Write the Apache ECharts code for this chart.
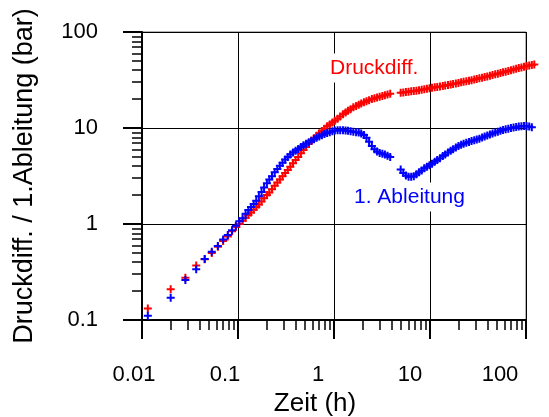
<!DOCTYPE html>
<html>
<head>
<meta charset="utf-8">
<script src="https://cdn.jsdelivr.net/npm/echarts@6/dist/echarts.min.js"></script>
<style>
html, body { margin: 0; padding: 0; background: #fff; }
#chart { width: 549px; height: 417px; }
</style>
</head>
<body>
<div id="chart"></div>
<script>
// Zeit (h), gemeinsam fuer beide Reihen
var zeit = [
	0.0115, 0.0199, 0.0283, 0.0367, 0.045, 0.0533, 0.0617, 0.07, 0.0783, 0.0867, 0.095, 0.1033, 0.1117, 0.12, 0.1283, 0.1367,
	0.1456, 0.155, 0.165, 0.176, 0.187, 0.2, 0.212, 0.226, 0.241, 0.257, 0.273, 0.291, 0.31, 0.33, 0.351, 0.374, 0.398, 0.424, 0.452, 0.481,
	0.512, 0.546, 0.581, 0.619, 0.659, 0.702, 0.748, 0.796, 0.848, 0.903, 0.962, 1.02, 1.09, 1.16, 1.24, 1.32, 1.4, 1.49, 1.59, 1.7,
	1.81, 1.92, 2.05, 2.18, 2.32, 2.48, 2.64, 2.81, 2.99, 3.19, 3.39, 3.61, 3.85,
	4.95, 5.27, 5.61, 5.98, 6.37, 6.78, 7.22, 7.69, 8.19, 8.72, 9.29, 9.89, 10.5, 11.2, 11.9, 12.7, 13.6, 14.4, 15.4, 16.4,
	17.4, 18.6, 19.8, 21.1, 22.4, 23.9, 25.5, 27.1, 28.9, 30.7, 32.7, 34.9, 37.1, 39.5, 42.1, 44.8, 47.8, 50.9, 54.2, 57.7,
	61.4, 65.4, 69.7, 74.2, 79, 84.1, 89.6, 95.4, 101.6, 108, 115, 122
];
// Druckdiff. (bar)
var druck = [
	0.132, 0.209, 0.276, 0.37, 0.43, 0.50, 0.58, 0.665, 0.74, 0.84, 0.93, 1.0, 1.08, 1.16, 1.24, 1.32,
	1.41, 1.5, 1.6, 1.72, 1.85, 2.0, 2.13, 2.3, 2.5, 2.7, 2.9, 3.15, 3.4, 3.65, 3.95, 4.3, 4.65, 5.0, 5.45, 5.9,
	6.35, 6.9, 7.35, 7.8, 8.3, 8.8, 9.3, 9.85, 10.4, 10.9, 11.4, 11.9, 12.5, 13.2, 13.9, 14.5, 15.1, 15.7, 16.4, 17.0,
	17.5, 18.0, 18.5, 19.0, 19.5, 20.0, 20.4, 20.8, 21.2, 21.6, 22.0, 22.3, 22.7,
	23.3, 23.5, 23.7, 23.9, 24.1, 24.3, 24.5, 24.8, 25.0, 25.3, 25.6, 25.9, 26.2, 26.5, 26.8, 27.1, 27.4, 27.7, 28.0, 28.4,
	28.7, 29.1, 29.5, 29.9, 30.3, 30.7, 31.1, 31.5, 32.0, 32.4, 32.9, 33.4, 33.9, 34.4, 35.0, 35.6, 36.2, 36.8, 37.4, 38.0,
	38.6, 39.3, 40.0, 40.7, 41.4, 42.1, 42.8, 43.5, 44.2, 44.8, 45.3, 45.8
];
// 1. Ableitung (bar)
var ableitung = [
	0.111, 0.171, 0.261, 0.337, 0.432, 0.515, 0.59, 0.69, 0.77, 0.86, 0.96, 1.07, 1.15, 1.28, 1.4, 1.5,
	1.62, 1.75, 1.95, 2.15, 2.4, 2.65, 2.9, 3.15, 3.45, 3.75, 4.05, 4.35, 4.7, 5.0, 5.3, 5.55, 5.8, 6.05, 6.35, 6.6,
	6.85, 7.1, 7.35, 7.65, 7.9, 8.15, 8.4, 8.65, 8.85, 9.05, 9.25, 9.4, 9.5, 9.5, 9.45, 9.4, 9.35, 9.25, 9.15, 9.05,
	8.95, 8.75, 8.45, 7.9, 7.2, 6.5, 6.0, 5.7, 5.5, 5.4, 5.3, 5.15, 5.0,
	3.7, 3.4, 3.2, 3.1, 3.1, 3.15, 3.3, 3.45, 3.6, 3.8, 3.95, 4.1, 4.25, 4.45, 4.65, 4.85, 5.1, 5.3, 5.55, 5.8,
	6.0, 6.25, 6.5, 6.7, 6.85, 7.0, 7.15, 7.3, 7.45, 7.6, 7.75, 7.95, 8.15, 8.35, 8.55, 8.75, 8.95, 9.15, 9.35, 9.55,
	9.7, 9.85, 10.0, 10.1, 10.25, 10.35, 10.45, 10.5, 10.45, 10.35, 10.2, null
];

var xTickLabels = ['0.01', '0.1', '1', '10', '100'];
var xDecades = [0.01, 0.1, 1, 10];
var yDecades = [0.1, 1, 10];
var minorSteps = [2, 3, 4, 5, 6, 7, 8, 9];

function minorTicks(decades) {
	var list = [];
	decades.forEach(function (d) {
		minorSteps.forEach(function (m) {
			list.push(parseFloat((d * m).toPrecision(3)));
		});
	});
	return list;
}

function pairs(ys) {
	var out = [];
	for (var i = 0; i < zeit.length; i++) {
		if (ys[i] != null) {
			out.push([zeit[i], ys[i]]);
		}
	}
	return out;
}

var font = 'Liberation Sans';
var plus = 'path://M3,0H5V3H8V5H5V8H3V5H0V3H3Z';

var chart = echarts.init(document.getElementById('chart'));
var option = {
	animation: false,
	backgroundColor: '#fff',
	grid: {
		left: 142,
		right: 23,
		top: 32,
		bottom: 97,
		show: true,
		borderColor: '#666',
		borderWidth: 1,
		containLabel: false,
		outerBoundsMode: 'none'
	},
	xAxis: [{
		type: 'log',
		logBase: 10,
		min: 0.01,
		max: 100,
		position: 'bottom',
		name: 'Zeit (h)',
		nameLocation: 'middle',
		nameGap: 67,
		nameTextStyle: {
			fontSize: 26,
			fontFamily: font,
			color: '#000',
			padding: [0, 38, 0, 0]
		},
		axisLine: { onZero: false, lineStyle: { color: '#000', width: 2 } },
		axisTick: { length: 19, lineStyle: { color: '#000', width: 2 } },
		minorTick: { show: false },
		splitLine: { show: true, lineStyle: { color: '#000', width: 1 } },
		axisLabel: {
			margin: 44,
			fontSize: 22,
			fontFamily: font,
			color: '#000',
			formatter: function (value) {
				var i = Math.round(Math.log10(value)) + 2;
				return '{s' + i + '|' + xTickLabels[i] + '}';
			},
			rich: {
				s0: { padding: [0, 16, 0, 0] },
				s1: { padding: [0, 26, 0, 0] },
				s2: { padding: [0, 32, 0, 0] },
				s3: { padding: [0, 40, 0, 0] },
				s4: { padding: [0, 52, 0, 0] }
			}
		}
	}, {
		// kleine Striche 2..9
		type: 'log',
		logBase: 10,
		min: 0.01,
		max: 100,
		position: 'bottom',
		axisLine: { show: false },
		axisLabel: { show: false },
		splitLine: { show: false },
		axisTick: { length: 10, lineStyle: { color: '#000', width: 1.5 }, customValues: minorTicks(xDecades) }
	}],
	yAxis: [{
		type: 'log',
		logBase: 10,
		min: 0.1,
		max: 100,
		position: 'left',
		name: 'Druckdiff. / 1.Ableitung (bar)',
		nameLocation: 'middle',
		nameGap: 104,
		nameTextStyle: {
			fontSize: 27,
			fontFamily: font,
			color: '#000'
		},
		axisLine: { onZero: false, lineStyle: { color: '#000', width: 2 } },
		axisTick: { length: 19, lineStyle: { color: '#000', width: 2 } },
		minorTick: { show: false },
		splitLine: { show: true, lineStyle: { color: '#000', width: 1 } },
		axisLabel: {
			margin: 44,
			fontSize: 22,
			fontFamily: font,
			color: '#000'
		}
	}, {
		type: 'log',
		logBase: 10,
		min: 0.1,
		max: 100,
		position: 'left',
		axisLine: { show: false },
		axisLabel: { show: false },
		splitLine: { show: false },
		axisTick: { length: 10, lineStyle: { color: '#000', width: 1.5 }, customValues: minorTicks(yDecades) }
	}],
	series: [{
		name: 'Druckdiff.',
		type: 'scatter',
		data: pairs(druck),
		symbol: plus,
		symbolSize: 8,
		clip: false,
		itemStyle: { color: '#ff0000', opacity: 1 },
		z: 3
	}, {
		name: '1. Ableitung',
		type: 'scatter',
		data: pairs(ableitung),
		symbol: plus,
		symbolSize: 8,
		clip: false,
		itemStyle: { color: '#0000ff', opacity: 1 },
		z: 4
	}],
	graphic: [{
		type: 'text',
		x: 328,
		y: 68,
		z: 10,
		style: {
			text: 'Druckdiff.',
			fill: '#ff0000',
			fontSize: 21,
			fontFamily: font,
			verticalAlign: 'middle',
			backgroundColor: '#fff',
			padding: [4, 2, 4, 2]
		}
	}, {
		type: 'text',
		x: 352,
		y: 197,
		z: 10,
		style: {
			text: '1. Ableitung',
			fill: '#0000ff',
			fontSize: 21,
			fontFamily: font,
			verticalAlign: 'middle',
			backgroundColor: '#fff',
			padding: [4, 2, 4, 2]
		}
	}]
};

chart.setOption(option);

window.addEventListener('resize', function () {
	chart.resize();
});
</script>
</body>
</html>
